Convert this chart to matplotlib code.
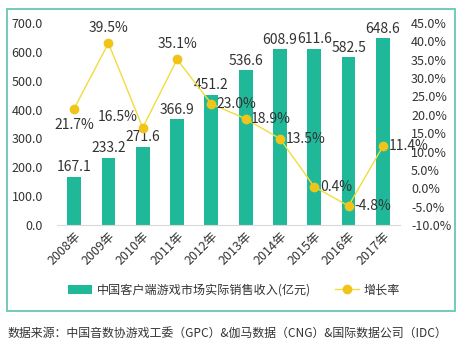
import matplotlib.pyplot as plt
from matplotlib.patches import Rectangle

plt.rcParams['font.family'] = ['Noto Sans CJK SC', 'DejaVu Sans']

years = ['2008年', '2009年', '2010年', '2011年', '2012年', '2013年', '2014年', '2015年', '2016年', '2017年']
revenue = [167.1, 233.2, 271.6, 366.9, 451.2, 536.6, 608.9, 611.6, 582.5, 648.6]
growth = [21.7, 39.5, 16.5, 35.1, 23.0, 18.9, 13.5, 0.4, -4.8, 11.4]

bar_color = '#1fb99a'
line_color = '#f2dc3c'
dot_color = '#f0c419'
txt = '#333333'

fig = plt.figure(figsize=(4.69, 3.51), dpi=100)
ax = fig.add_axes([57/469, 1 - 225/351, 343/469, 202/351])
ax2 = ax.twinx()

x = list(range(len(years)))
bars = ax.bar(x, revenue, width=0.4, color=bar_color, label='中国客户端游戏市场实际销售收入(亿元)', zorder=2)
ax.set_ylim(0, 700)
ax.set_xlim(-0.5, 9.5)
ax.set_yticks(range(0, 701, 100))
ax.set_yticklabels(['%.1f' % v for v in range(0, 701, 100)])
ax.set_xticks(x)
ax.set_xticklabels(years, rotation=45, ha='right', rotation_mode='anchor')

for i, v in enumerate(revenue):
    ax.text(i, v + 8, '%.1f' % v, ha='center', va='bottom', fontsize=10, color=txt, zorder=5)

ax2.plot(x, growth, color=line_color, lw=1, marker='o', ms=6,
         mfc=dot_color, mec=dot_color, label='增长率', zorder=3)
ax2.set_ylim(-10, 45)
ax2.set_yticks(range(-10, 46, 5))
ax2.set_yticklabels(['%.1f%%' % v for v in range(-10, 46, 5)])

# label offsets in points (dx, dy, ha, va)
offs = [(0, -7, 'center', 'top'), (0, 6, 'center', 'bottom'), (-4, 3, 'right', 'bottom'),
        (0, 6, 'center', 'bottom'), (4, 0, 'left', 'center'), (4, 0, 'left', 'center'),
        (4, 0, 'left', 'center'), (4, 0, 'left', 'center'), (4, 0, 'left', 'center'),
        (4, 0, 'left', 'center')]
for i, g in enumerate(growth):
    dx, dy, ha, va = offs[i]
    ax2.annotate('%.1f%%' % g, (i, g), xytext=(dx, dy), textcoords='offset points',
                 ha=ha, va=va, fontsize=10, color=txt, zorder=6)

for a in (ax, ax2):
    for s in a.spines.values():
        s.set_visible(False)
    a.tick_params(length=0, labelsize=9, colors=txt)
ax.spines['bottom'].set_visible(True)
ax.spines['bottom'].set_color('#d9d9d9')
ax.tick_params(axis='y', pad=10)
ax2.tick_params(axis='y', pad=8)

h1, l1 = ax.get_legend_handles_labels()
h2, l2 = ax2.get_legend_handles_labels()
fig.legend(h1 + h2, l1 + l2, loc='center', bbox_to_anchor=(234/469, 1 - 290/351), ncol=2,
           frameon=False, fontsize=8.7, handlelength=2.0, columnspacing=2.0,
           labelcolor=txt, handletextpad=0.4)

fig.patches.append(Rectangle((7/469, 1 - 311/351), 448/469, 302/351, transform=fig.transFigure,
                             fill=False, edgecolor='#5cc1ad', lw=1.2))
fig.text(7/469, 1 - 333/351, '数据来源：中国音数协游戏工委（GPC）&伽马数据（CNG）&国际数据公司（IDC）',
         fontsize=8.6, color=txt, va='center', ha='left')

fig.savefig('out.png', dpi=100)
